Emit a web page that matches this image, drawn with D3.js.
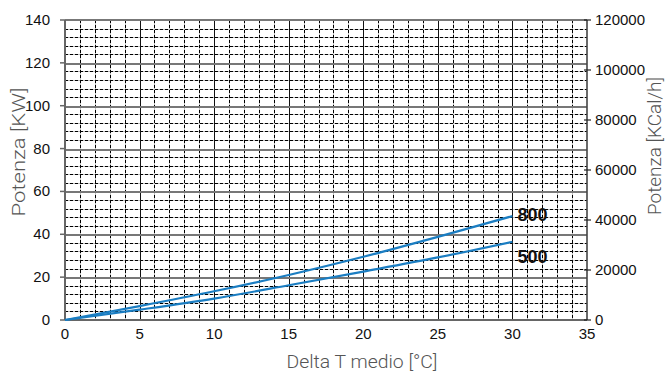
<!DOCTYPE html>
<html>
<head>
<meta charset="utf-8">
<script src="https://cdn.jsdelivr.net/npm/d3@7"></script>
<style>
  body { margin: 0; background: #fff; }
  svg { display: block; }
  .tick-label { font-family: "Liberation Sans", Arial, sans-serif; font-size: 15px; fill: #111; }
  .title { font-family: Roboto, "Noto Sans", sans-serif; font-weight: 300; fill: #555; }
</style>
</head>
<body>
<svg id="chart" width="667" height="374"></svg>
<script>
// dati
const deltaT = [0, 5, 10, 15, 20, 25, 30];
const serie800 = [0, 6.5, 13.4, 21, 29.5, 38.8, 48.5];
const serie500 = [0, 4.8, 10, 16.2, 22.6, 29.2, 36.5];
const serieNomi = ["800", "500"];
const xTicks = [0, 5, 10, 15, 20, 25, 30, 35];
const yTicks = [0, 20, 40, 60, 80, 100, 120, 140];
const y2Ticks = [0, 20000, 40000, 60000, 80000, 100000, 120000];

const svg = d3.select("#chart");
const x = d3.scaleLinear().domain([0, 35]).range([65, 587]);
const y = d3.scaleLinear().domain([0, 140]).range([320, 20]);
const y2 = d3.scaleLinear().domain([0, 120000]).range([320, 20]);
const px = v => Math.round(v) + 0.5;

const grid = svg.append("g").attr("shape-rendering", "crispEdges");
// linee secondarie tratteggiate (grigio sotto, trattini neri sopra)
const xMinor = d3.range(0, 36, 1).filter(d => d % 5 != 0);
const yMinor = d3.range(0, 141, 4).filter(d => d % 20 != 0);
["#bdbdbd", "#000"].forEach(function (col, k) {
    grid.selectAll(".vminor" + k).data(xMinor).enter().append("line")
        .attr("x1", d => px(x(d))).attr("x2", d => px(x(d)))
        .attr("y1", y(140)).attr("y2", y(0))
        .attr("stroke", col).attr("stroke-width", 1)
        .attr("stroke-dasharray", k ? "3,2" : null);
    grid.selectAll(".hminor" + k).data(yMinor).enter().append("line")
        .attr("x1", x(0)).attr("x2", x(35))
        .attr("y1", d => px(y(d))).attr("y2", d => px(y(d)))
        .attr("stroke", col).attr("stroke-width", 1)
        .attr("stroke-dasharray", k ? "3,2" : null);
});
// linee principali
grid.selectAll(".vmajor").data(xTicks.slice(1, -1)).enter().append("line")
    .attr("x1", d => px(x(d))).attr("x2", d => px(x(d)))
    .attr("y1", y(140)).attr("y2", y(0))
    .attr("stroke", "#111").attr("stroke-width", 1);
grid.selectAll(".hmajor").data(yTicks.slice(1, -1)).enter().append("line")
    .attr("x1", x(0)).attr("x2", x(35))
    .attr("y1", d => px(y(d))).attr("y2", d => px(y(d)))
    .attr("stroke", "#777").attr("stroke-width", 2);

// cornice
svg.append("line").attr("x1", x(0)).attr("x2", x(35)).attr("y1", y(140)).attr("y2", y(140))
    .attr("stroke", "#777").attr("stroke-width", 2);
svg.append("line").attr("x1", x(0)).attr("x2", x(35)).attr("y1", y(0)).attr("y2", y(0))
    .attr("stroke", "#666").attr("stroke-width", 2);
svg.append("line").attr("x1", x(0)).attr("x2", x(0)).attr("y1", y(0)).attr("y2", y(140))
    .attr("stroke", "#666").attr("stroke-width", 2);
svg.append("line").attr("x1", x(35)).attr("x2", x(35)).attr("y1", y(0)).attr("y2", y(140))
    .attr("stroke", "#444").attr("stroke-width", 1.6);

// tacche e etichette asse sinistro
svg.selectAll(".ytick").data(yTicks).enter().append("line")
    .attr("x1", x(0) - 5).attr("x2", x(0))
    .attr("y1", d => y(d)).attr("y2", d => y(d))
    .attr("stroke", "#666").attr("stroke-width", 1.5);
svg.selectAll(".ylab").data(yTicks).enter().append("text")
    .attr("class", "tick-label")
    .attr("x", 50).attr("y", d => y(d) + 5)
    .attr("text-anchor", "end")
    .text(d => d);

// asse destro
svg.selectAll(".y2tick").data(y2Ticks).enter().append("line")
    .attr("x1", x(35) - 3).attr("x2", x(35) + 4)
    .attr("y1", d => y2(d)).attr("y2", d => y2(d))
    .attr("stroke", "#222").attr("stroke-width", 1.2);
svg.selectAll(".y2lab").data(y2Ticks).enter().append("text")
    .attr("class", "tick-label")
    .attr("x", 595).attr("y", d => y2(d) + 5)
    .text(d => d);

// asse x
svg.selectAll(".xlab").data(xTicks).enter().append("text")
    .attr("class", "tick-label")
    .attr("x", d => x(d)).attr("y", 339)
    .attr("text-anchor", "middle")
    .text(d => d);

// curve
const line = d3.line()
    .x((d, i) => x(deltaT[i]))
    .y(d => y(d))
    .curve(d3.curveMonotoneX);
[serie800, serie500].forEach(function (s, k) {
    svg.append("path")
        .datum(s)
        .attr("d", line)
        .attr("fill", "none")
        .attr("stroke", "#1a7dc2")
        .attr("stroke-width", 2.2);
    svg.append("text")
        .attr("x", x(30) + 5)
        .attr("y", y(s[s.length - 1]) + (k == 0 ? 5 : 21))
        .attr("font-family", "Liberation Sans, Arial, sans-serif")
        .attr("font-weight", "bold")
        .attr("font-size", 18)
        .attr("fill", "#111")
        .text(serieNomi[k]);
});

// titoli
svg.append("text").attr("class", "title")
    .attr("x", 362).attr("y", 368)
    .attr("text-anchor", "middle")
    .attr("font-size", 19)
    .attr("textLength", 151).attr("lengthAdjust", "spacingAndGlyphs")
    .text("Delta T medio [°C]");
svg.append("text").attr("class", "title")
    .attr("transform", "translate(25,152) rotate(-90)")
    .attr("text-anchor", "middle")
    .attr("font-size", 19)
    .attr("textLength", 129).attr("lengthAdjust", "spacingAndGlyphs")
    .text("Potenza [KW]");
svg.append("text").attr("class", "title")
    .attr("transform", "translate(661,146) rotate(-90)")
    .attr("text-anchor", "middle")
    .attr("font-size", 18)
    .attr("textLength", 138).attr("lengthAdjust", "spacingAndGlyphs")
    .text("Potenza [KCal/h]");
</script>
</body>
</html>
